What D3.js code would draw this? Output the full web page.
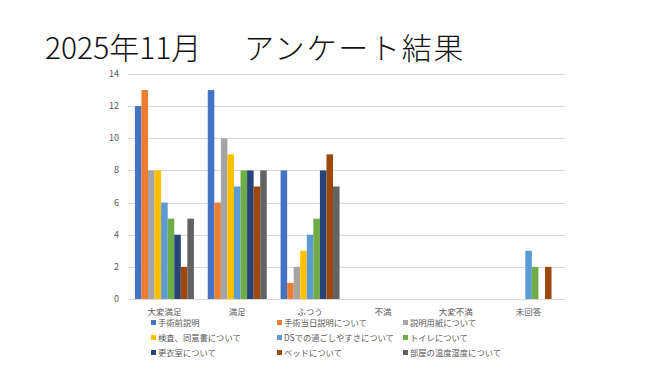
<!DOCTYPE html>
<html>
<head>
<meta charset="utf-8">
<script src="https://cdn.jsdelivr.net/npm/d3@7"></script>
<style>
  body { margin: 0; background: #fff; }
  text { font-family: "Noto Sans CJK JP", sans-serif; }
</style>
</head>
<body>
<svg id="chart" width="648" height="377"></svg>
<script>
// categories (x axis)
const categories = ["大変満足", "満足", "ふつう", "不満", "大変不満", "未回答"];
// series names (legend)
const seriesNames = ["手術前説明", "手術当日説明について", "説明用紙について",
  "検査、同意書について", "DSでの過ごしやすさについて", "トイレについて",
  "更衣室について", "ベッドについて", "部屋の温度湿度について"];
const seriesColors = ["#4472C4", "#ED7D31", "#A5A5A5", "#FFC000", "#5B9BD5",
  "#70AD47", "#264478", "#9E480E", "#636363"];
// values per series, in category order
const s1 = [12, 13, 8, 0, 0, 0];
const s2 = [13, 6, 1, 0, 0, 0];
const s3 = [8, 10, 2, 0, 0, 0];
const s4 = [8, 9, 3, 0, 0, 0];
const s5 = [6, 7, 4, 0, 0, 3];
const s6 = [5, 8, 5, 0, 0, 2];
const s7 = [4, 8, 8, 0, 0, 0];
const s8 = [2, 7, 9, 0, 0, 2];
const s9 = [5, 8, 7, 0, 0, 0];
const yTicks = [0, 2, 4, 6, 8, 10, 12, 14];

const allSeries = [s1, s2, s3, s4, s5, s6, s7, s8, s9];

const svg = d3.select("#chart");

// title in two parts (wide gap in the middle)
let title = svg.append("text")
   .attr("y", 59)
   .attr("font-size", 30)
   .attr("font-weight", 300)
   .attr("fill", "#111");
title.append("tspan").attr("x", 45).text("2025年11月");
title.append("tspan").attr("x", 244).attr("letter-spacing", 1.8).text("アンケート結果");

let plotLeft = 128, plotRight = 565, plotTop = 74, plotBottom = 299;

let xscale = d3.scaleBand()
               .domain(categories)
               .range([plotLeft, plotRight]);
let xinner = d3.scaleBand()
               .domain(d3.range(seriesNames.length))
               .range([0, xscale.bandwidth() * 0.81]);
let yscale = d3.scaleLinear()
               .domain([0, 14])
               .range([plotBottom, plotTop]);

// gridlines
svg.append("g")
   .selectAll("line")
   .data(yTicks)
   .join("line")
   .attr("x1", plotLeft)
   .attr("x2", plotRight)
   .attr("y1", d => Math.round(yscale(d)) + 0.5)
   .attr("y2", d => Math.round(yscale(d)) + 0.5)
   .attr("stroke", "#D9D9D9")
   .attr("stroke-width", 1);

// y tick labels
svg.append("g")
   .selectAll("text")
   .data(yTicks)
   .join("text")
   .attr("x", 119)
   .attr("y", d => yscale(d) + 3)
   .attr("text-anchor", "end")
   .attr("font-size", 9)
   .attr("fill", "#595959")
   .text(d => d);

// bars
let offset = (xscale.bandwidth() - xinner.range()[1]) / 2;
let groups = svg.append("g")
   .selectAll("g")
   .data(allSeries)
   .join("g")
   .attr("fill", (d, i) => seriesColors[i]);
groups.each(function(vals, si) {
  d3.select(this).selectAll("rect")
    .data(vals.map((v, ci) => ({v: v, c: categories[ci]})))
    .join("rect")
    .attr("x", d => xscale(d.c) + offset + xinner(si))
    .attr("width", xinner.bandwidth())
    .attr("y", d => yscale(d.v))
    .attr("height", d => yscale(0) - yscale(d.v));
});

// x category labels
svg.append("g")
   .selectAll("text")
   .data(categories)
   .join("text")
   .attr("x", d => xscale(d) + xscale.bandwidth() / 2)
   .attr("y", 315)
   .attr("text-anchor", "middle")
   .attr("font-size", 8.5)
   .attr("fill", "#595959")
   .text(d => d);

// legend
let legX = [151, 277, 403];
let legY = [323, 338, 353];
let legend = svg.append("g")
   .selectAll("g")
   .data(seriesNames)
   .join("g")
   .attr("transform", (d, i) => `translate(${legX[i % 3]},${legY[Math.floor(i / 3)]})`);
legend.append("rect")
      .attr("x", 0)
      .attr("y", -3)
      .attr("width", 5)
      .attr("height", 5)
      .attr("fill", (d, i) => seriesColors[i]);
legend.append("text")
      .attr("x", 7)
      .attr("y", 3)
      .attr("font-size", 8.3)
      .attr("fill", "#595959")
      .text(d => d);
</script>
</body>
</html>
